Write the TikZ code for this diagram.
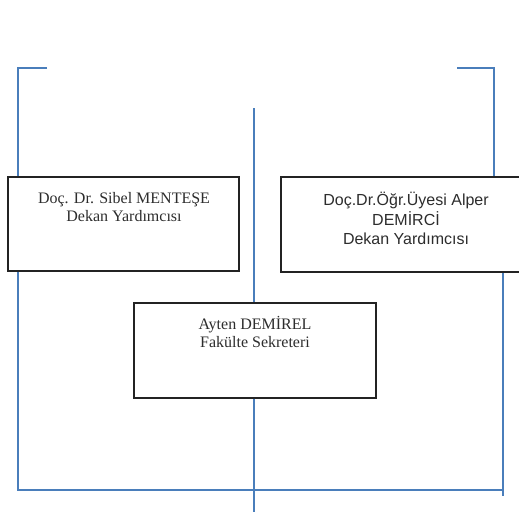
\documentclass[tikz,border=0pt]{standalone}
\usepackage{fontspec}
\usetikzlibrary{calc}
\setmainfont{Liberation Serif}
\newfontfamily\arialfont{Liberation Sans}
\definecolor{lineblue}{RGB}{74,126,187}
\definecolor{boxline}{RGB}{35,35,35}
\definecolor{txt}{RGB}{45,45,45}
\tikzset{
  conn/.style={draw=lineblue, line width=2pt},
  boxnode/.style={draw=boxline, line width=1.4pt, rectangle, inner sep=0pt, fill=white},
  label/.style={anchor=north, align=center, inner sep=0pt, text=txt,
    font=\fontsize{16}{18}\selectfont},
}
\begin{document}
\begin{tikzpicture}[x=1pt,y=-1pt]
\useasboundingbox (0,0) rectangle (519,512);
% boxes
\node[boxnode, minimum width=231pt, minimum height=94pt] (b1) at (123.5,224) {};
\node[boxnode, minimum width=240pt, minimum height=95pt] (b2) at (401,224.5) {};
\node[boxnode, minimum width=242pt, minimum height=95pt] (b3) at (255,350.5) {};
% texts
\node[label] (t1) at (124,190.5) {\strut Doç. Dr. Sibel MENTEŞE\\Dekan Yardımcısı};
\node[label, font=\arialfont\fontsize{16}{18.5}\selectfont] (t2) at (406,191.5) {\strut Doç.Dr.Öğr.Üyesi Alper\\DEMİRCİ\\Dekan Yardımcısı};
\node[label] (t3) at (255,316.5) {\strut Ayten DEMİREL\\Fakülte Sekreteri};
% free ends
\coordinate (lt) at (47,68);
\coordinate (rt) at (457,67.5);
\coordinate (ct) at (254,108);
\coordinate (cb) at (254,512);
\coordinate (lx) at (18,0);
\coordinate (rx) at (494,0);
\coordinate (rbx) at (503,0);
\coordinate (hb) at (0,490);
% connectors
\draw[conn] (lt) -| (b1.north -| lx);
\draw[conn] (rt) -| (b2.north -| rx);
\draw[conn] (ct) -- (ct |- b3.north);
\draw[conn] (cb |- b3.south) -- (cb);
\draw[conn] (b1.south -| lx) |- (hb -| rbx) -- (b2.south -| rbx);
\draw[conn] (hb -| rbx) -- ($(hb -| rbx)+(0,6)$);
\end{tikzpicture}
\end{document}
